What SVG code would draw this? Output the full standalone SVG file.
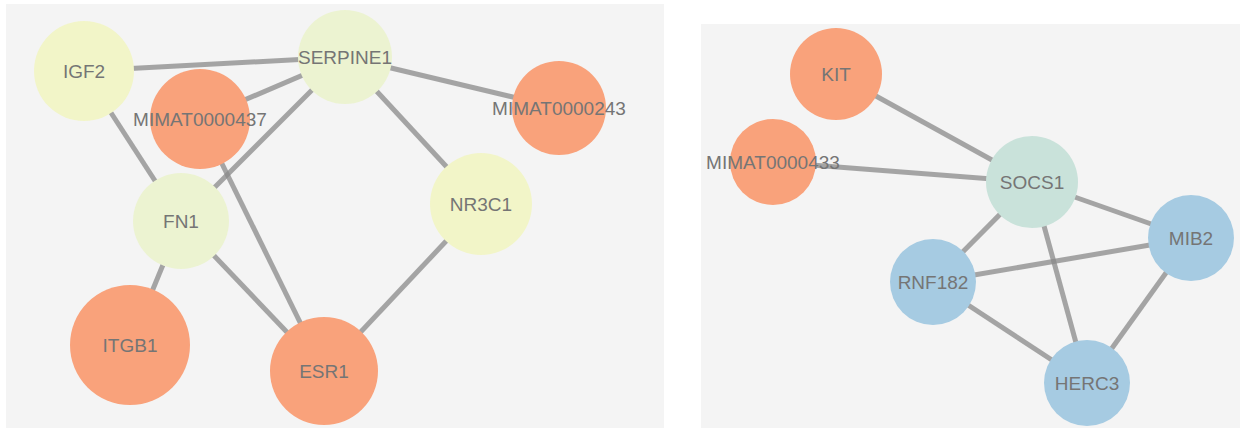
<svg xmlns="http://www.w3.org/2000/svg" width="1240" height="428" viewBox="0 0 1240 428">
  <style>
    .panel { fill: #f4f4f4; }
    .edge { stroke: #8a8a8a; stroke-opacity: 0.75; stroke-width: 5; fill: none; }
    .mir { fill: #f9a27b; }
    .ylw { fill: #f2f5c8; }
    .grn { fill: #ecf3d1; }
    .teal { fill: #c9e2da; }
    .blue { fill: #a6cbe2; }
    text { font-family: "Liberation Sans", Arial, sans-serif; font-size: 19px; fill: #757575; text-anchor: middle; }
  </style>
  <rect width="1240" height="428" fill="#ffffff"/>
  <rect class="panel" x="6" y="4" width="658" height="424"/>
  <rect class="panel" x="701" y="24" width="539" height="404"/>

  <g id="connectors">
    <!-- left network -->
    <line class="edge" x1="84" y1="71" x2="345" y2="57"/>
    <line class="edge" x1="84" y1="71" x2="181" y2="221"/>
    <line class="edge" x1="200" y1="119" x2="345" y2="57"/>
    <line class="edge" x1="181" y1="221" x2="345" y2="57"/>
    <line class="edge" x1="345" y1="57" x2="559" y2="108"/>
    <line class="edge" x1="345" y1="57" x2="481" y2="204"/>
    <line class="edge" x1="200" y1="119" x2="324" y2="371"/>
    <line class="edge" x1="181" y1="221" x2="130" y2="345"/>
    <line class="edge" x1="181" y1="221" x2="324" y2="371"/>
    <line class="edge" x1="481" y1="204" x2="324" y2="371"/>
    <!-- right network -->
    <line class="edge" x1="836" y1="74" x2="1032" y2="182"/>
    <line class="edge" x1="773" y1="162" x2="1032" y2="182"/>
    <line class="edge" x1="1032" y1="182" x2="933" y2="282"/>
    <line class="edge" x1="1032" y1="182" x2="1191" y2="238"/>
    <line class="edge" x1="1032" y1="182" x2="1087" y2="383"/>
    <line class="edge" x1="933" y1="282" x2="1191" y2="238"/>
    <line class="edge" x1="933" y1="282" x2="1087" y2="383"/>
    <line class="edge" x1="1191" y1="238" x2="1087" y2="383"/>
  </g>

  <g id="IGF2"><circle class="ylw" cx="84" cy="71" r="50"/><text x="84" y="78">IGF2</text></g>
  <g id="SERPINE1"><circle class="grn" cx="345" cy="57" r="47"/><text x="345" y="64">SERPINE1</text></g>
  <g id="MIMAT0000437"><circle class="mir" cx="200" cy="119" r="50"/><text x="200" y="126">MIMAT0000437</text></g>
  <g id="MIMAT0000243"><circle class="mir" cx="559" cy="108" r="47"/><text x="559" y="115">MIMAT0000243</text></g>
  <g id="FN1"><circle class="grn" cx="181" cy="221" r="48"/><text x="181" y="228">FN1</text></g>
  <g id="NR3C1"><circle class="ylw" cx="481" cy="204" r="51"/><text x="481" y="211">NR3C1</text></g>
  <g id="ITGB1"><circle class="mir" cx="130" cy="345" r="60"/><text x="130" y="352">ITGB1</text></g>
  <g id="ESR1"><circle class="mir" cx="324" cy="371" r="54"/><text x="324" y="378">ESR1</text></g>

  <g id="KIT"><circle class="mir" cx="836" cy="74" r="46"/><text x="836" y="81">KIT</text></g>
  <g id="MIMAT0000433"><circle class="mir" cx="773" cy="162" r="43"/><text x="773" y="169">MIMAT0000433</text></g>
  <g id="SOCS1"><circle class="teal" cx="1032" cy="182" r="46"/><text x="1032" y="189">SOCS1</text></g>
  <g id="RNF182"><circle class="blue" cx="933" cy="282" r="43"/><text x="933" y="289">RNF182</text></g>
  <g id="MIB2"><circle class="blue" cx="1191" cy="238" r="43"/><text x="1191" y="245">MIB2</text></g>
  <g id="HERC3"><circle class="blue" cx="1087" cy="383" r="43"/><text x="1087" y="390">HERC3</text></g>
</svg>
